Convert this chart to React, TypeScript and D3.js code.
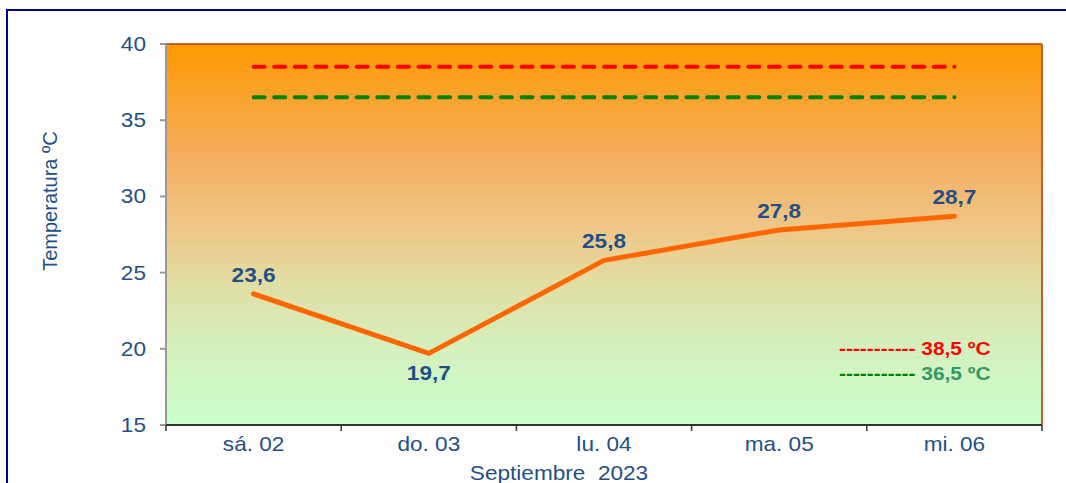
import React from "react";
import * as d3 from "d3";

const categories = ["sá. 02", "do. 03", "lu. 04", "ma. 05", "mi. 06"];
const temps = [23.6, 19.7, 25.8, 27.8, 28.7];
const labelBelow = [false, true, false, false, false];
const yTicks = [15, 20, 25, 30, 35, 40];
const thresholds = [
  { value: 38.5, color: "#FF0000", text: "38,5 ºC", textColor: "#FF0000" },
  { value: 36.5, color: "#008000", text: "36,5 ºC", textColor: "#339966" },
];
const xTitle = "Septiembre  2023";
const yTitle = "Temperatura ºC";

const W = 1066, H = 483;
const L = 166, R = 1042, T = 44, B = 425;
const BLUE = "#234F86";
const SX = 1.13;
const FONT = "Liberation Sans, Arial, sans-serif";

const fmt = (v: number) => v.toFixed(1).replace(".", ",");

function SText({ x, y, anchor = "middle", size = 20, bold = false, fill = BLUE, children }: any) {
  return (
    <g transform={`translate(${x},${y}) scale(${SX},1)`}>
      <text x={0} y={0} textAnchor={anchor} fontSize={size} fontWeight={bold ? "bold" : "normal"} fill={fill}
        fontFamily={FONT} style={{ whiteSpace: "pre" }}>
        {children}
      </text>
    </g>
  );
}

export default function App() {
  const x = d3.scaleBand<string>().domain(categories).range([L, R]);
  const y = d3.scaleLinear().domain([15, 40]).range([B, T]);
  const cx = (c: string) => (x(c) as number) + x.bandwidth() / 2;
  const line = d3.line<number>().x((_, i) => cx(categories[i])).y((d) => y(d));
  const x0 = cx(categories[0]);
  const x1 = cx(categories[categories.length - 1]);
  const boundaries = categories.map((c) => x(c) as number).concat([R]);
  const period = (x1 - x0) / 34;

  return (
    <svg width={W} height={H} style={{ position: "absolute", left: 0, top: 0, background: "#fff" }}>
      <defs>
        <linearGradient id="bg" x1="0" y1="0" x2="0" y2="1">
          <stop offset="0" stopColor="#FF9900" />
          <stop offset="0.3" stopColor="#F5AE60" />
          <stop offset="0.5" stopColor="#EDC98A" />
          <stop offset="0.62" stopColor="#E2DDA2" />
          <stop offset="0.8" stopColor="#D4F0BE" />
          <stop offset="1" stopColor="#CCFFCC" />
        </linearGradient>
      </defs>
      <rect x={7} y={10} width={1200} height={700} fill="none" stroke="#000090" strokeWidth={2} />
      <rect x={L} y={T} width={R - L} height={B - T} fill="url(#bg)" />
      <line x1={L} y1={T} x2={R} y2={T} stroke="#A0401A" strokeWidth={1.5} />
      <line x1={R} y1={T} x2={R} y2={B} stroke="#C0622A" strokeWidth={2} />

      {thresholds.map((t) => (
        <line key={t.value} x1={x0} x2={x1} y1={y(t.value)} y2={y(t.value)} stroke={t.color} strokeWidth={4}
          strokeDasharray={`11 ${period - 11}`} strokeLinecap="round" />
      ))}

      <line x1={L} y1={T} x2={L} y2={B} stroke="#999" strokeWidth={2} />
      {yTicks.map((t) => (
        <g key={t}>
          <line x1={160} x2={L} y1={y(t)} y2={y(t)} stroke="#999" strokeWidth={2} />
          <SText x={146} y={y(t) + 7} anchor="end">{t}</SText>
        </g>
      ))}

      <line x1={L} y1={B} x2={R} y2={B} stroke="#333" strokeWidth={2} />
      {boundaries.map((b, i) => (
        <line key={i} x1={b} x2={b} y1={B} y2={B + 6} stroke="#333" strokeWidth={1.5} />
      ))}
      {categories.map((c) => (
        <SText key={c} x={cx(c)} y={451}>{c}</SText>
      ))}

      <path d={line(temps) || ""} fill="none" stroke="#FF6600" strokeWidth={5} strokeLinecap="round" strokeLinejoin="round" />
      {temps.map((v, i) => (
        <SText key={i} x={cx(categories[i])} y={labelBelow[i] ? y(v) + 27 : y(v) - 12} bold>{fmt(v)}</SText>
      ))}

      {thresholds.map((t, i) => (
        <g key={"lg" + i} transform={`translate(839,${355 + i * 25}) scale(${SX},1)`}>
          <text x={0} y={0} fontSize={18.5} fontWeight="bold" fontFamily={FONT} style={{ whiteSpace: "pre" }}>
            <tspan fill={t.color}>{"-----------"}</tspan>
            <tspan fill={t.textColor}>{" " + t.text}</tspan>
          </text>
        </g>
      ))}

      <SText x={559} y={480}>{xTitle}</SText>
      <text transform={`translate(57,201) rotate(-90)`} textAnchor="middle" fontSize={20} fill={BLUE} fontFamily={FONT}>
        {yTitle}
      </text>
    </svg>
  );
}
